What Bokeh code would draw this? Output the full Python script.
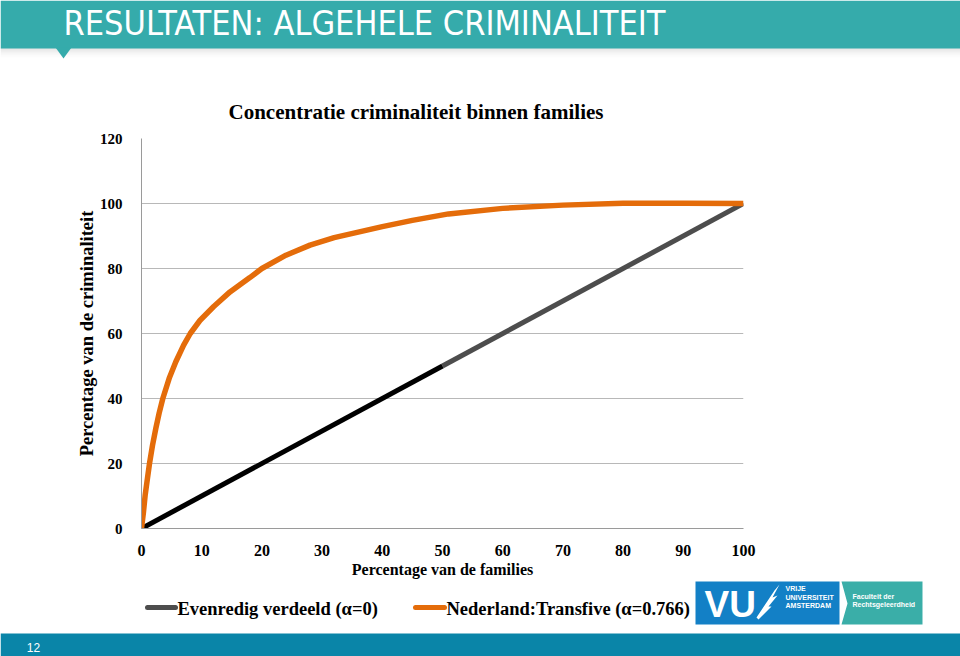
from bokeh.plotting import figure
from bokeh.models import Range1d, FixedTicker
from bokeh.core.properties import value
from bokeh.embed import file_html
from bokeh.resources import INLINE

# ---- data ----
equal_x_first = [0, 50]
equal_y_first = [0, 50]
equal_x_second = [50, 100]
equal_y_second = [50, 100]
nl_x = [0, 0.33, 0.61, 1.0, 1.33, 1.83, 2.38, 2.93, 3.54, 4.6, 5.7, 7.0, 8.1, 9.7,
        12, 14.7, 18, 20, 24, 28, 32, 40, 45, 51, 60, 70, 80, 90, 100]
nl_y = [0, 5.1, 10.3, 15.6, 20, 25.6, 30.8, 35.5, 40, 46.2, 51.3, 56.4, 60, 64.0,
        68.3, 72.8, 77.2, 80, 84.1, 87.2, 89.5, 92.9, 94.8, 96.8, 98.5, 99.5, 100.1,
        100.1, 100]
x_ticks = [0, 10, 20, 30, 40, 50, 60, 70, 80, 90, 100]
y_ticks = [0, 20, 40, 60, 80, 100, 120]
grid_ticks = [20, 40, 60, 80, 100]

chart_title = "Concentratie criminaliteit binnen families"
slide_title = "RESULTATEN: ALGEHELE CRIMINALITEIT"
x_label = "Percentage van de families"
y_label = "Percentage van de criminaliteit"
legend_labels = ["Evenredig verdeeld (\u03b1=0)", "Nederland:Transfive (\u03b1=0.766)"]
page_number = "12"
logo_lines = ["VRIJE", "UNIVERSITEIT", "AMSTERDAM"]
faculty_lines = ["Faculteit der", "Rechtsgeleerdheid"]

SERIF = "Liberation Serif"
TEAL = "#35ABAB"
GREY_LINE = "#4d4d4d"
ORANGE = "#E46C0A"
NARROW = "'Liberation Sans Narrow', 'DejaVu Sans Condensed', 'Roboto Condensed', Roboto"


def blank(height, y0, y1):
    f = figure(width=960, height=height, output_backend="svg", toolbar_location=None,
               x_range=Range1d(0, 960), y_range=Range1d(y1, y0),
               min_border=0, x_axis_type=None, y_axis_type=None)
    f.outline_line_color = None
    f.grid.visible = False
    f.background_fill_color = "white"
    f.border_fill_color = "white"
    return f


# ---------------- header (page y 0..60) ----------------
h = blank(60, 0, 60)
shadow_alpha = [0.20, 0.14, 0.09, 0.05, 0.02]
for i, a in enumerate(shadow_alpha):
    h.quad(left=0, right=960, top=47 + 2 * i, bottom=49 + 2 * i,
           fill_color="#7a7a7a", fill_alpha=a, line_color=None)
h.quad(left=0, right=960, top=0, bottom=48, fill_color=TEAL, line_color=None)
h.patch([55, 71, 63], [47, 47, 58], fill_color=TEAL, line_color=None)
h.text(x=[63], y=[22], text=[slide_title], text_font=value(NARROW),
       text_font_size="34px", text_color="white", text_baseline="middle")

# ---------------- main chart (page y 60..580) ----------------
p = figure(width=960, height=520, output_backend="svg", toolbar_location=None,
           x_range=Range1d(0, 100), y_range=Range1d(0, 120),
           min_border_left=141, min_border_right=217, min_border_top=78,
           min_border_bottom=52)
p.outline_line_color = None
p.background_fill_color = "white"
p.border_fill_color = "white"

p.title.text = chart_title
p.title.text_font = SERIF
p.title.text_font_style = "bold"
p.title.text_font_size = "21px"
p.title.text_color = "black"
p.title.align = "left"
p.title.offset = 87
p.title.standoff = 29

for ax in (p.xaxis[0], p.yaxis[0]):
    ax.axis_line_color = "#9a9a9a"
    ax.axis_line_width = 1
    ax.major_tick_line_color = None
    ax.minor_tick_line_color = None
    ax.major_label_text_font = SERIF
    ax.major_label_text_font_style = "bold"
    ax.major_label_text_color = "black"
    ax.axis_label_text_font = SERIF
    ax.axis_label_text_font_style = "bold"
    ax.axis_label_text_color = "black"
p.xaxis.major_label_text_font_size = "16px"
p.yaxis.major_label_text_font_size = "15px"
p.xaxis.ticker = FixedTicker(ticks=x_ticks)
p.yaxis.ticker = FixedTicker(ticks=y_ticks)
p.xaxis.major_label_standoff = 10
p.yaxis.major_label_standoff = 13
p.xaxis.axis_label = x_label
p.xaxis.axis_label_text_font_size = "16px"
p.xaxis.axis_label_standoff = 2
p.yaxis.axis_label = y_label
p.yaxis.axis_label_text_font_size = "18.5px"
p.yaxis.axis_label_standoff = 0

p.xgrid.grid_line_color = None
p.ygrid.ticker = FixedTicker(ticks=grid_ticks)
p.ygrid.grid_line_color = "#b8b8b8"
p.ygrid.grid_line_width = 1

p.line(equal_x_second, equal_y_second, line_color=GREY_LINE, line_width=5)
p.line(equal_x_first, equal_y_first, line_color="black", line_width=5)
p.line(nl_x, nl_y, line_color=ORANGE, line_width=5.5, line_join="round")

# ---------------- bottom (page y 580..656) ----------------
b = blank(76, 580, 656)
b.line([147, 175], [607, 607], line_color=GREY_LINE, line_width=5, line_cap="round")
b.line([415, 444], [607, 607], line_color=ORANGE, line_width=5, line_cap="round")
b.text(x=[177, 446], y=[608, 608], text=legend_labels, text_font=value(SERIF),
       text_font_style="bold", text_font_size="18.5px", text_color="black",
       text_baseline="middle")
b.quad(left=0, right=960, top=633, bottom=656, fill_color="#0A85A8", line_color=None)
b.text(x=[33], y=[647], text=[page_number], text_font=value("Liberation Sans"),
       text_font_size="12px", text_color="white", text_align="center",
       text_baseline="middle")
b.quad(left=695, right=839, top=581, bottom=624, fill_color="#1380C6", line_color=None)
b.patch([841, 922, 922, 841, 847], [581, 581, 624, 624, 603],
        fill_color="#3AAEA8", line_color=None)
b.text(x=[704], y=[604], text=["VU"], text_font=value("Liberation Sans"),
       text_font_style="bold", text_font_size="37px", text_color="white",
       text_baseline="middle")
# simple griffin-like wing mark
b.patch([756, 766, 774, 779, 772, 777, 768, 771, 762, 758],
        [617, 602, 590, 584, 597, 595, 606, 606, 615, 619],
        fill_color="white", line_color=None)
b.text(x=[785, 785, 785], y=[588, 596.5, 605], text=logo_lines,
       text_font=value("Liberation Sans"), text_font_style="bold", text_font_size="7px",
       text_color="white", text_baseline="middle")
b.text(x=[852, 852], y=[596, 604], text=faculty_lines,
       text_font=value("Liberation Sans"), text_font_style="bold", text_font_size="7px",
       text_color="white", text_baseline="middle")

open("out.html", "w").write(file_html([h, p, b], INLINE))
